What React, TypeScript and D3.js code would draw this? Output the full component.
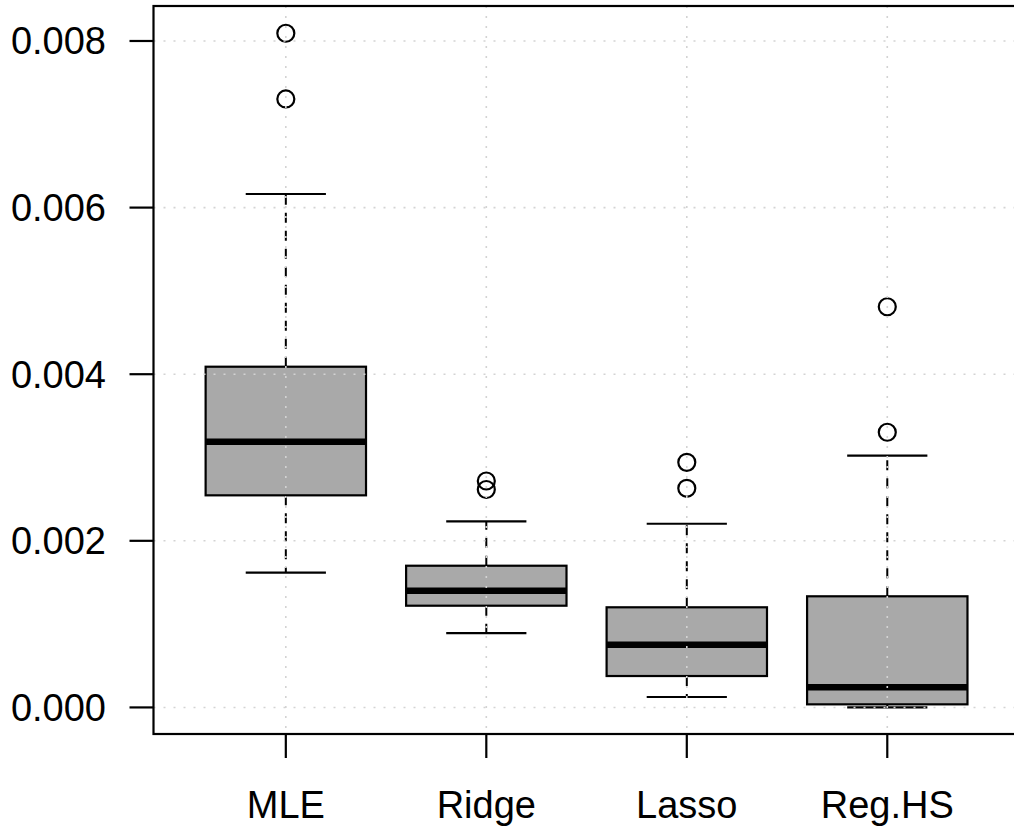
import React from 'react';
import * as d3 from 'd3';

// box statistics
const categories = ['MLE', 'Ridge', 'Lasso', 'Reg.HS'];
const lowerWhisker = [0.001617, 0.000893, 0.000125, 0.0];
const q1 = [0.002546, 0.001221, 0.000377, 0.000037];
const median = [0.00319, 0.001401, 0.000753, 0.000241];
const q3 = [0.00409, 0.001701, 0.001202, 0.001334];
const upperWhisker = [0.006163, 0.002234, 0.002205, 0.003022];
const outliers = [
  [0.008093, 0.007304],
  [0.002718, 0.002616],
  [0.002942, 0.00263],
  [0.00481, 0.003303],
];
const yTicks = [0, 0.002, 0.004, 0.006, 0.008];
const yTickLabels = ['0.000', '0.002', '0.004', '0.006', '0.008'];

const W = 1014;
const H = 827;
const plot = { left: 153.5, top: 6, right: 1019.6, bottom: 734 };
const font = '"Liberation Sans", Arial, Helvetica, sans-serif';

const App = () => {
  const x = d3.scaleLinear().domain([0.34, 4.66]).range([plot.left, plot.right]);
  const y = d3.scaleLinear().domain([-0.000319, 0.00842]).range([plot.bottom, plot.top]);

  const boxHalf = (x(1.4) - x(1)) ;
  const stapleHalf = (x(1.2) - x(1));

  return (
    <svg
      width={W}
      height={H}
      style={{ position: 'fixed', left: 0, top: 0, background: '#fff' }}
      fontFamily={font}
    >
      {categories.map((c, i) => {
        const cx = x(i + 1);
        return (
          <g key={c}>
            {/* whiskers */}
            <line x1={cx} x2={cx} y1={y(q3[i])} y2={y(upperWhisker[i])} stroke="#000" strokeWidth={2} strokeDasharray="10,8" />
            <line x1={cx} x2={cx} y1={y(q1[i])} y2={y(lowerWhisker[i])} stroke="#000" strokeWidth={2} strokeDasharray="10,8" />
            {/* staples */}
            <line x1={cx - stapleHalf} x2={cx + stapleHalf} y1={y(upperWhisker[i])} y2={y(upperWhisker[i])} stroke="#000" strokeWidth={2.2} />
            <line x1={cx - stapleHalf} x2={cx + stapleHalf} y1={y(lowerWhisker[i])} y2={y(lowerWhisker[i])} stroke="#000" strokeWidth={2.2} />
            {/* box */}
            <rect
              x={cx - boxHalf}
              y={y(q3[i])}
              width={boxHalf * 2}
              height={y(q1[i]) - y(q3[i])}
              fill="#a9a9a9"
              stroke="#000"
              strokeWidth={2.2}
            />
            <line x1={cx - boxHalf} x2={cx + boxHalf} y1={y(median[i])} y2={y(median[i])} stroke="#000" strokeWidth={6.5} />
            {outliers[i].map((v, j) => (
              <circle key={j} cx={cx} cy={y(v)} r={8.5} fill="none" stroke="#000" strokeWidth={2.2} />
            ))}
          </g>
        );
      })}

      {/* grid over everything, as in the original */}
      <g stroke="#d3d3d3" strokeWidth={1.6} strokeDasharray="2,8">
        {yTicks.map((t) => (
          <line key={t} x1={plot.left} x2={W} y1={y(t)} y2={y(t)} />
        ))}
        {categories.map((c, i) => (
          <line key={c} x1={x(i + 1)} x2={x(i + 1)} y1={plot.top} y2={plot.bottom} />
        ))}
      </g>

      {/* frame */}
      <rect
        x={plot.left}
        y={plot.top}
        width={plot.right - plot.left}
        height={plot.bottom - plot.top}
        fill="none"
        stroke="#000"
        strokeWidth={2.2}
      />

      {/* y axis */}
      {yTicks.map((t, i) => (
        <g key={t}>
          <line x1={plot.left - 24} x2={plot.left} y1={y(t)} y2={y(t)} stroke="#000" strokeWidth={2.2} />
          <text x={106} y={y(t)} dy="0.35em" textAnchor="end" fontSize={38}>
            {yTickLabels[i]}
          </text>
        </g>
      ))}

      {/* x axis */}
      {categories.map((c, i) => (
        <g key={c}>
          <line x1={x(i + 1)} x2={x(i + 1)} y1={plot.bottom} y2={plot.bottom + 24} stroke="#000" strokeWidth={2.2} />
          <text x={x(i + 1)} y={817.5} textAnchor="middle" fontSize={38}>
            {c}
          </text>
        </g>
      ))}
    </svg>
  );
};

export default App;
